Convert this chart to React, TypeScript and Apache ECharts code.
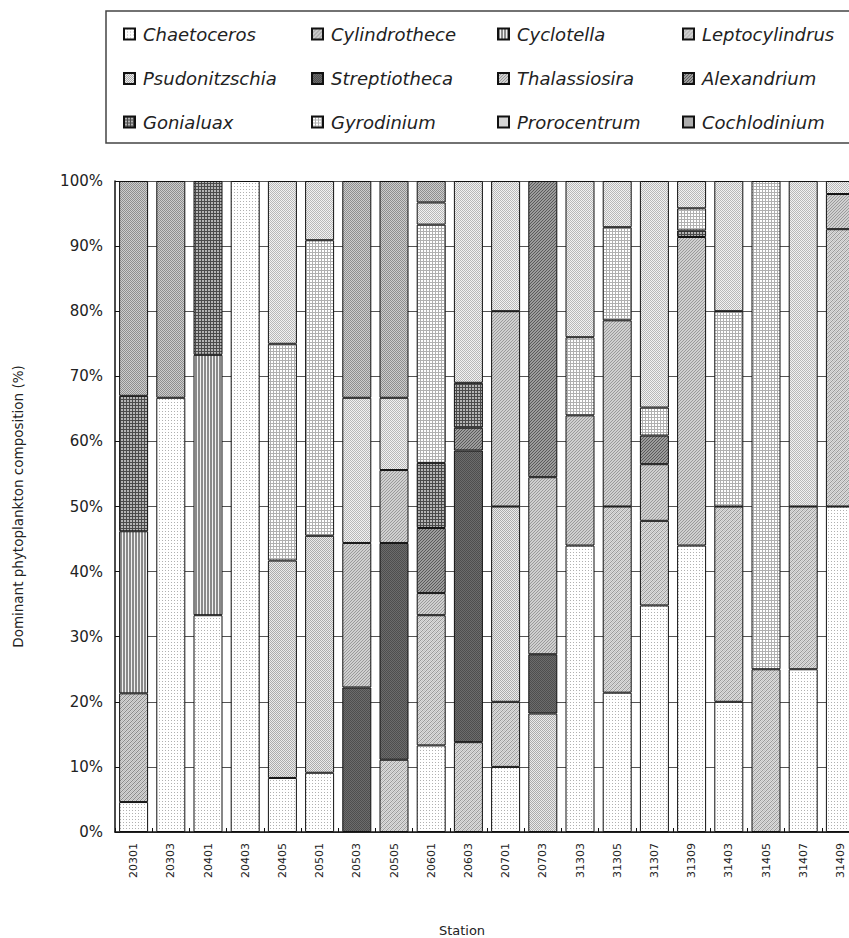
import React, { useEffect, useRef } from "react";
import * as echarts from "echarts";

const stations = [
  "20301", "20303", "20401", "20403", "20405", "20501", "20503", "20505", "20601", "20603",
  "20701", "20703", "31303", "31305", "31307", "31309", "31403", "31405", "31407", "31409",
];

const chaetoceros = [4.6, 66.7, 33.3, 100, 8.3, 9.1, 0, 0, 13.3, 0, 10, 0, 44, 21.4, 34.8, 44, 20, 0, 25, 50];
const cylindrothece = [16.7, 0, 0, 0, 0, 0, 0, 0, 0, 0, 0, 0, 0, 0, 0, 0, 0, 0, 0, 0];
const cyclotella = [24.9, 0, 40, 0, 0, 0, 0, 0, 0, 0, 0, 0, 0, 0, 0, 0, 0, 0, 0, 0];
const leptocylindrus = [0, 0, 0, 0, 0, 0, 0, 11.1, 20, 13.8, 10, 0, 0, 28.6, 13, 0, 30, 25, 25, 42.6];
const psudonitzschia = [0, 0, 0, 0, 33.4, 36.4, 0, 0, 0, 0, 30, 18.2, 0, 0, 0, 0, 0, 0, 0, 0];
const streptiotheca = [0, 0, 0, 0, 0, 0, 22.2, 33.3, 0, 44.8, 0, 9.1, 0, 0, 0, 0, 0, 0, 0, 0];
const thalassiosira = [0, 0, 0, 0, 0, 0, 22.2, 11.2, 3.4, 0, 30, 27.2, 20, 28.6, 8.7, 47.4, 0, 0, 0, 5.4];
const alexandrium = [0, 0, 0, 0, 0, 0, 0, 0, 10, 3.5, 0, 45.5, 0, 0, 4.4, 0, 0, 0, 0, 0];
const gonialuax = [20.8, 0, 26.7, 0, 0, 0, 0, 0, 10, 6.9, 0, 0, 0, 0, 0, 1, 0, 0, 0, 0];
const gyrodinium = [0, 0, 0, 0, 33.3, 45.4, 0, 0, 36.6, 0, 0, 0, 12, 14.3, 4.3, 3.4, 30, 75, 0, 0];
const prorocentrum = [0, 0, 0, 0, 25, 9.1, 22.3, 11.1, 3.4, 31, 20, 0, 24, 7.1, 34.8, 4.2, 20, 0, 50, 2];
const cochlodinium = [33, 33.3, 0, 0, 0, 0, 33.3, 33.3, 3.3, 0, 0, 0, 0, 0, 0, 0, 0, 0, 0, 0];

const seriesNames = [
  "Chaetoceros", "Cylindrothece", "Cyclotella", "Leptocylindrus",
  "Psudonitzschia", "Streptiotheca", "Thalassiosira", "Alexandrium",
  "Gonialuax", "Gyrodinium", "Prorocentrum", "Cochlodinium",
];
const seriesValues = [
  chaetoceros, cylindrothece, cyclotella, leptocylindrus,
  psudonitzschia, streptiotheca, thalassiosira, alexandrium,
  gonialuax, gyrodinium, prorocentrum, cochlodinium,
];

const FONT = "DejaVu Sans";

function tile(size: number, fn: (x: number, y: number) => string) {
  const c = document.createElement("canvas");
  c.width = size;
  c.height = size;
  const ctx = c.getContext("2d")!;
  for (let y = 0; y < size; y++) {
    for (let x = 0; x < size; x++) {
      ctx.fillStyle = fn(x, y);
      ctx.fillRect(x, y, 1, 1);
    }
  }
  return { image: c.toDataURL(), repeat: "repeat", imageWidth: size, imageHeight: size };
}

function makePatterns() {
  return [
    // Chaetoceros: white, sparse dots
    tile(3, (x, y) => (x === 0 && y === 0 ? "#b0b0b0" : "#ffffff")),
    // Cylindrothece
    tile(4, (x, y) => ((x + y) % 4 === 0 ? "#8a8a8a" : (x + y) % 2 === 0 ? "#bcbcbc" : "#d4d4d4")),
    // Cyclotella: vertical stripes
    tile(3, (x) => (x === 2 ? "#f2f2f2" : "#8a8a8a")),
    // Leptocylindrus
    tile(4, (x, y) => ((x + y) % 4 === 0 ? "#9a9a9a" : (x + y) % 2 === 0 ? "#c2c2c2" : "#dcdcdc")),
    // Psudonitzschia: light checker
    tile(2, (x, y) => ((x + y) % 2 === 0 ? "#acacac" : "#ebebeb")),
    // Streptiotheca: dark
    tile(2, (x, y) => ((x + y) % 2 === 0 ? "#4e4e4e" : "#6c6c6c")),
    // Thalassiosira
    tile(3, (x, y) => ((x + y) % 3 === 0 ? "#9a9a9a" : "#d0d0d0")),
    // Alexandrium: darker diagonal
    tile(3, (x, y) => ((x + y) % 3 === 0 ? "#5a5a5a" : "#9c9c9c")),
    // Gonialuax: dark grid
    tile(3, (x, y) => (x === 0 || y === 0 ? "#4a4a4a" : "#b4b4b4")),
    // Gyrodinium: white grid
    tile(3, (x, y) => (x === 0 || y === 0 ? "#b0b0b0" : "#ffffff")),
    // Prorocentrum: light checker
    tile(2, (x, y) => ((x + y) % 2 === 0 ? "#b8b8b8" : "#f2f2f2")),
    // Cochlodinium: medium checker
    tile(2, (x, y) => ((x + y) % 2 === 0 ? "#8e8e8e" : "#cdcdcd")),
  ];
}

// legend layout: [left, rowCenterY]
const legendCols = [123, 311, 497, 682];
const legendRows = [34, 78.5, 122];

export default function App() {
  const ref = useRef<HTMLDivElement>(null);
  useEffect(() => {
    if (!ref.current) return;
    const chart = echarts.init(ref.current, undefined, { renderer: "svg" });
    const patterns = makePatterns();

    const legends = seriesNames.map((name, i) => {
      const col = i % 4;
      const row = Math.floor(i / 4);
      return {
        data: [name],
        left: legendCols[col],
        top: legendRows[row] - 10,
        padding: 0,
        itemWidth: 11,
        itemHeight: 11,
        icon: "rect",
        selectedMode: false,
        textStyle: {
          fontFamily: FONT,
          fontSize: 18,
          fontStyle: "italic",
          color: "#222",
          lineHeight: 20,
          padding: [0, 0, 0, 3],
        },
      };
    });

    const series = seriesNames.map((name, i) => ({
      name,
      type: "bar",
      stack: "total",
      barWidth: 29,
      data: seriesValues[i].map((v) => (v === 0 ? null : v)),
      itemStyle: { color: patterns[i], borderColor: "#111", borderWidth: 1 },
      emphasis: { disabled: true },
    }));

    chart.setOption({
      animation: false,
      backgroundColor: "#ffffff",
      legend: legends,
      graphic: [
        {
          type: "rect",
          shape: { x: 106, y: 11, width: 800, height: 132 },
          style: { fill: "none", stroke: "#444", lineWidth: 1.5 },
          z: -1,
        },
        {
          type: "text",
          x: 462,
          y: 930,
          style: {
            text: "Station",
            fontFamily: FONT,
            fontSize: 13,
            fill: "#222",
            textAlign: "center",
            textVerticalAlign: "middle",
          },
        },
      ],
      grid: { left: 115, top: 181, width: 744, height: 651 },
      xAxis: {
        type: "category",
        data: stations,
        axisLine: { lineStyle: { color: "#111", width: 1.5 } },
        axisTick: { show: true, inside: true, length: 4, lineStyle: { color: "#111" } },
        axisLabel: {
          interval: 0,
          rotate: 90,
          margin: 11,
          fontFamily: FONT,
          fontSize: 11,
          color: "#222",
        },
      },
      yAxis: {
        type: "value",
        min: 0,
        max: 100,
        interval: 10,
        name: "Dominant phytoplankton composition (%)",
        nameLocation: "middle",
        nameGap: 90,
        nameTextStyle: { fontFamily: FONT, fontSize: 13.5, color: "#222" },
        axisLine: { show: true, lineStyle: { color: "#111", width: 1.5 } },
        axisTick: { show: true, inside: true, length: 5, lineStyle: { color: "#111" } },
        axisLabel: {
          formatter: "{value}%",
          margin: 12,
          fontFamily: FONT,
          fontSize: 15,
          color: "#222",
        },
        splitLine: { show: true, lineStyle: { color: "#555", width: 1 } },
      },
      series,
    });
    return () => chart.dispose();
  }, []);
  return (
    <div
      style={{
        position: "absolute",
        left: 0,
        top: 0,
        width: 849,
        height: 938,
        overflow: "hidden",
      }}
    >
      <div ref={ref} style={{ width: 900, height: 938 }} />
    </div>
  );
}
